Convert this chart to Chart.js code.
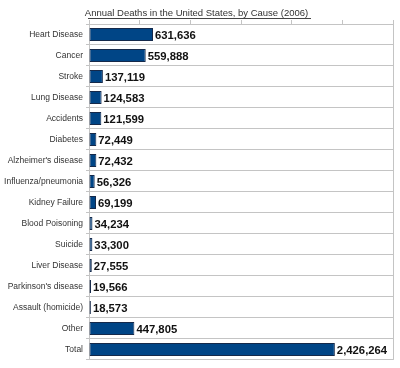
<!DOCTYPE html>
<html>
<head>
<meta charset="utf-8">
<script src="https://cdn.jsdelivr.net/npm/chart.js@4"></script>
<style>
  html, body { margin: 0; padding: 0; background: #fff; }
  #wrap { width: 400px; height: 368px; }
</style>
</head>
<body>
<div id="wrap"><canvas id="chart" width="400" height="368"></canvas></div>
<script>
// Data
const causes = ['Heart Disease', 'Cancer', 'Stroke', 'Lung Disease', 'Accidents', 'Diabetes',
  "Alzheimer's disease", 'Influenza/pneumonia', 'Kidney Failure', 'Blood Poisoning', 'Suicide',
  'Liver Disease', "Parkinson's disease", 'Assault (homicide)', 'Other', 'Total'];
const deaths = [631636, 559888, 137119, 124583, 121599, 72449, 72432, 56326, 69199, 34234,
  33300, 27555, 19566, 18573, 447805, 2426264];
const axisMax = 3000000;
const axisStep = 500000;

const FONT = "'Liberation Sans', Arial, sans-serif";
const GRID = '#c4c4c4';
const TITLE_SIZE = 9.5;

// value labels next to each bar
const valueLabels = {
  id: 'valueLabels',
  afterDatasetsDraw(chart) {
    const ctx = chart.ctx;
    const meta = chart.getDatasetMeta(0);
    ctx.save();
    ctx.font = 'bold 11.3px ' + FONT;
    ctx.fillStyle = '#111';
    ctx.textAlign = 'left';
    ctx.textBaseline = 'middle';
    meta.data.forEach((bar, i) => {
      ctx.fillText(deaths[i].toLocaleString('en-US'), bar.x + 2, bar.y + 1);
    });
    ctx.restore();
  }
};

// underline under the title
const titleUnderline = {
  id: 'titleUnderline',
  afterDraw(chart) {
    const ctx = chart.ctx;
    const text = chart.options.plugins.title.text;
    ctx.save();
    ctx.font = TITLE_SIZE + 'px ' + FONT;
    const w = ctx.measureText(text).width;
    const cx = chart.width / 2;
    ctx.fillStyle = '#444';
    ctx.fillRect(Math.round(cx - w / 2), 18, Math.round(w), 1);
    ctx.restore();
  }
};

new Chart(document.getElementById('chart'), {
  type: 'bar',
  data: {
    labels: causes,
    datasets: [{
      data: deaths,
      backgroundColor: '#004586',
      borderColor: '#15294a',
      borderWidth: 1,
      borderSkipped: false,
      categoryPercentage: 1,
      barPercentage: 0.62
    }]
  },
  options: {
    indexAxis: 'y',
    responsive: false,
    animation: false,
    layout: { padding: { left: 0, right: 7, top: 0, bottom: 5 } },
    plugins: {
      legend: { display: false },
      tooltip: { enabled: false },
      title: {
        display: true,
        text: 'Annual Deaths in the United States, by Cause (2006)',
        color: '#333',
        font: { family: FONT, size: TITLE_SIZE, weight: 'normal', lineHeight: 1.2 },
        padding: { top: 7.6, bottom: 1 }
      }
    },
    scales: {
      x: {
        position: 'top',
        min: 0,
        max: axisMax,
        ticks: { display: false, stepSize: axisStep },
        grid: {
          drawOnChartArea: true,
          color: c => (c.tick && c.tick.value === axisMax) ? GRID : 'rgba(0,0,0,0)',
          tickColor: GRID,
          tickLength: 4
        },
        border: { display: true, color: GRID }
      },
      y: {
        afterFit: s => { s.width = 89; },
        ticks: {
          color: '#333',
          padding: 3,
          font: { family: FONT, size: 8.5 }
        },
        grid: { color: GRID, tickLength: 3, offset: true },
        border: { display: true, color: GRID }
      }
    }
  },
  plugins: [valueLabels, titleUnderline]
});
</script>
</body>
</html>
